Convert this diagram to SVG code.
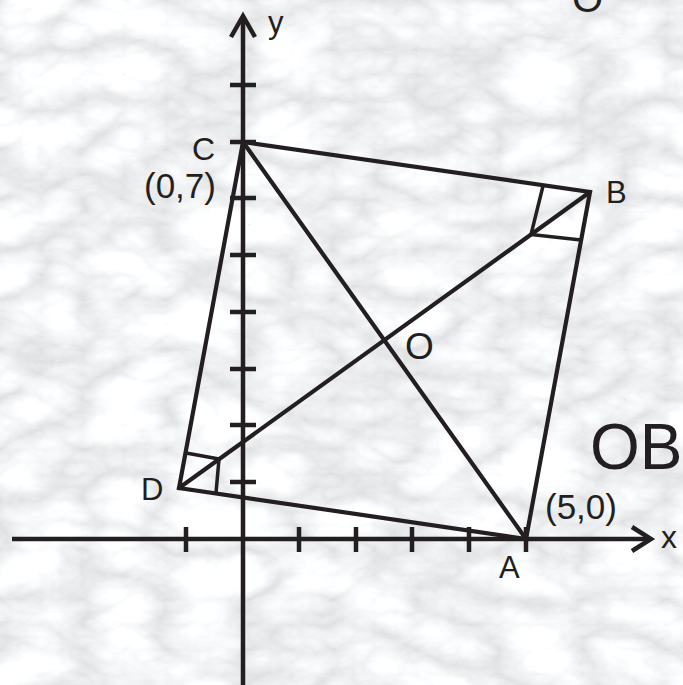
<svg xmlns="http://www.w3.org/2000/svg" width="683" height="685" viewBox="0 0 683 685">
  <defs>
    <filter id="marble" filterUnits="userSpaceOnUse" x="0" y="0" width="683" height="685">
      <feTurbulence type="turbulence" baseFrequency="0.012 0.02" numOctaves="5" seed="11" result="t"/>
      <feColorMatrix in="t" type="matrix" values="0.5 0 0 0 0.72  0.5 0 0 0 0.73  0.5 0 0 0 0.745  0 0 0 0 1"/>
    </filter>
    <style>
      .ax { stroke: #231f20; stroke-width: 4.5; fill: none; }
      .tk { stroke: #231f20; stroke-width: 4.5; }
      .ln { stroke: #231f20; stroke-width: 4.2; fill: none; stroke-linecap: round; }
      .mk { stroke: #231f20; stroke-width: 3.5; fill: none; }
      .lb { font-family: "Liberation Sans", Arial, sans-serif; fill: #231f20; }
    </style>
  </defs>
  <rect x="0" y="0" width="683" height="685" fill="#e2e3e5"/>
  <rect x="0" y="0" width="683" height="685" filter="url(#marble)"/>

  <g id="axes">
    <line class="ax" x1="12" y1="539" x2="650" y2="539"/>
    <polyline class="ax" points="632,527 651,539 632,551"/>
    <line class="ax" x1="243" y1="685" x2="243" y2="17"/>
    <polyline class="ax" points="231,37 243,16 255,37"/>
    <g id="xticks">
      <line class="tk" x1="186" y1="527" x2="186" y2="552"/>
      <line class="tk" x1="299" y1="527" x2="299" y2="552"/>
      <line class="tk" x1="356" y1="527" x2="356" y2="552"/>
      <line class="tk" x1="412" y1="527" x2="412" y2="552"/>
      <line class="tk" x1="469" y1="527" x2="469" y2="552"/>
      <line class="tk" x1="526" y1="527" x2="526" y2="552"/>
    </g>
    <g id="yticks">
      <line class="tk" x1="230" y1="482" x2="256" y2="482"/>
      <line class="tk" x1="230" y1="425" x2="256" y2="425"/>
      <line class="tk" x1="230" y1="369" x2="256" y2="369"/>
      <line class="tk" x1="230" y1="312" x2="256" y2="312"/>
      <line class="tk" x1="230" y1="255" x2="256" y2="255"/>
      <line class="tk" x1="230" y1="198" x2="256" y2="198"/>
      <line class="tk" x1="230" y1="142" x2="256" y2="142"/>
      <line class="tk" x1="230" y1="85" x2="256" y2="85"/>
    </g>
    <text class="lb" x="268" y="33" font-size="31">y</text>
    <text class="lb" x="661" y="548" font-size="32">x</text>
  </g>

  <g id="connectors">
    <polygon class="ln" points="526,539 590,192 243,142 179,488"/>
    <line class="ln" x1="526" y1="539" x2="243" y2="142"/>
    <line class="ln" x1="179" y1="488" x2="590" y2="192"/>
    <polyline class="mk" points="543,186 531,234.5 581,240"/>
    <polyline class="mk" points="186,453 219,459 216,493"/>
  </g>

  <g id="node-C"><text class="lb" x="192" y="160" font-size="32">C</text>
    <text class="lb" x="144" y="198" font-size="35">(0,7)</text></g>
  <g id="node-B"><text class="lb" x="606" y="203" font-size="31">B</text></g>
  <g id="node-O"><text class="lb" x="405" y="359" font-size="37">O</text></g>
  <g id="node-D"><text class="lb" x="141" y="500" font-size="31">D</text></g>
  <g id="node-A"><text class="lb" x="499" y="578" font-size="31">A</text>
    <text class="lb" x="545" y="519" font-size="35">(5,0)</text></g>
  <g id="labels">
    <text class="lb" x="590" y="469" font-size="64">OB</text>
    <text class="lb" x="572" y="12" font-size="40">O</text>
  </g>
</svg>
